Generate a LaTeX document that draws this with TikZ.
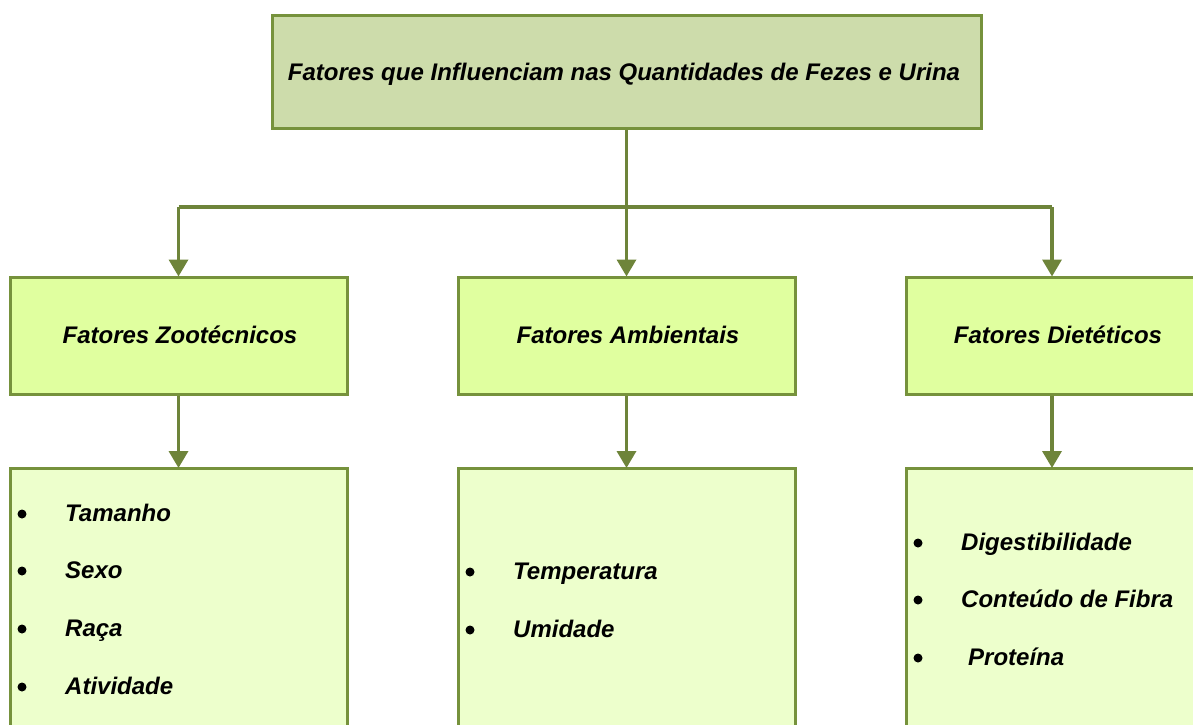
\documentclass[tikz,border=0pt]{standalone}
\usepackage{fontspec}
\setmainfont{Liberation Sans}
\usetikzlibrary{arrows.meta}
\definecolor{edge}{HTML}{76923C}
\definecolor{arr}{HTML}{6E843A}
\definecolor{topfill}{HTML}{CDDCAB}
\definecolor{midfill}{HTML}{E0FF9F}
\definecolor{lowfill}{HTML}{EDFFCC}
\tikzset{
  box/.style={draw=edge, line width=3pt, inner sep=0pt},
  lbl/.style={font=\fontsize{24}{28}\selectfont\bfseries\itshape, inner sep=0pt, text=black, anchor=base},
  item/.style={lbl, anchor=base west},
  dot/.style={circle, fill=black, inner sep=0pt, minimum size=9pt},
  conn/.style={draw=arr, line width=3.5pt},
  arrowc/.style={conn, -{Triangle[width=19pt,length=17pt]}, shorten >=-1pt},
}
\begin{document}
\begin{tikzpicture}[x=1pt,y=-1pt]
\useasboundingbox (0,0) rectangle (1193,724);
\clip (0,0) rectangle (1193,724);
% top box
\node[box, fill=topfill, minimum width=709pt, minimum height=113pt] (top) at (626.5,71.5) {};
\node[lbl] (toplbl) at (624,80) {Fatores que Influenciam nas Quantidades de Fezes e Urina};
% middle boxes
\node[box, fill=midfill, minimum width=337pt, minimum height=117pt] (mz) at (178.5,335.5) {};
\node[box, fill=midfill, minimum width=337pt, minimum height=117pt] (ma) at (626.5,335.5) {};
\node[box, fill=midfill, minimum width=292pt, minimum height=117pt] (md) at (1052,335.5) {};
\node[lbl] (mzl) at (180,343) {Fatores Zootécnicos};
\node[lbl] (mal) at (628,343) {Fatores Ambientais};
\node[lbl] (mdl) at (1058,343) {Fatores Dietéticos};
% bottom boxes
\node[box, fill=lowfill, minimum width=337pt, minimum height=320pt, anchor=north] (bz) at (178.5,467) {};
\node[box, fill=lowfill, minimum width=337pt, minimum height=320pt, anchor=north] (ba) at (626.5,467) {};
\node[box, fill=lowfill, minimum width=292pt, minimum height=320pt, anchor=north] (bd) at (1052,467) {};
% connectors
\coordinate (split) at (626.5,207);
\draw[conn] (top.south) -- (split);
\draw[arrowc] (split) -- (ma.north);
\coordinate (splitL) at (178.5,207);
\coordinate (splitR) at (1052,207);
\draw[conn] (splitL) -- (splitR);
\draw[arrowc] (splitL) -- (mz.north);
\draw[arrowc] (splitR) -- (md.north);
\draw[arrowc] (mz.south) -- (bz.north);
\draw[arrowc] (ma.south) -- (ba.north);
\draw[arrowc] (md.south) -- (bd.north);
% lists
\node[dot] (z1d) at (22,514) {}; \node[item] (z1) at (65,521) {Tamanho};
\node[dot] (z2d) at (22,571) {}; \node[item] (z2) at (65,578) {Sexo};
\node[dot] (z3d) at (22,629) {}; \node[item] (z3) at (65,636) {Raça};
\node[dot] (z4d) at (22,687) {}; \node[item] (z4) at (65,694) {Atividade};
\node[dot] (a1d) at (470,572) {}; \node[item] (a1) at (513,579) {Temperatura};
\node[dot] (a2d) at (470,630) {}; \node[item] (a2) at (513,637) {Umidade};
\node[dot] (d1d) at (918,543) {}; \node[item] (d1) at (961,550) {Digestibilidade};
\node[dot] (d2d) at (918,600) {}; \node[item] (d2) at (961,607) {Conteúdo de Fibra};
\node[dot] (d3d) at (918,658) {}; \node[item] (d3) at (968,665) {Proteína};
\end{tikzpicture}
\end{document}
